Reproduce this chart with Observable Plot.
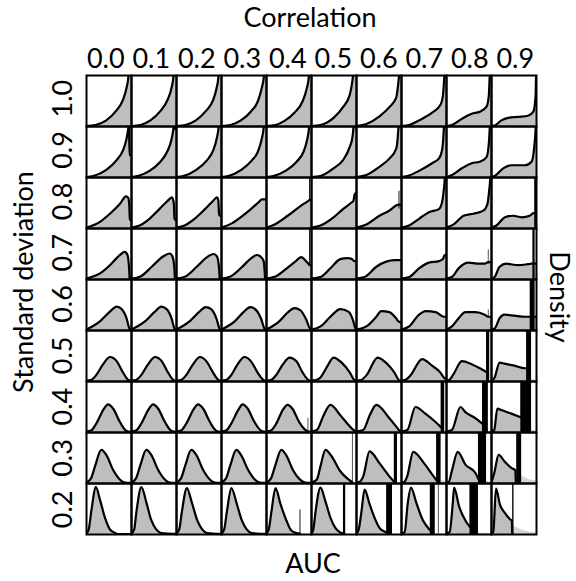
<!DOCTYPE html>
<html><head><meta charset="utf-8">
<script src="https://cdn.jsdelivr.net/npm/d3@7"></script>
<script src="https://cdn.jsdelivr.net/npm/@observablehq/plot@0.6"></script>
<style>body{margin:0;background:#fff}</style>
</head><body><div id="chart"></div>
<script>
const correlations = ["0.0","0.1","0.2","0.3","0.4","0.5","0.6","0.7","0.8","0.9"];
const sds = ["1.0","0.9","0.8","0.7","0.6","0.5","0.4","0.3","0.2"];

// density curves: [auc, density, auc, density, ...] per correlation
const sd10 = [
 [0,0.01, 0.2,0.03, 0.44,0.12, 0.67,0.32, 0.81,0.52, 0.89,0.76, 0.93,0.97, 0.95,1.3, 1,1.6],
 [0,0.01, 0.2,0.03, 0.42,0.12, 0.64,0.3, 0.8,0.52, 0.89,0.76, 0.93,0.97, 0.95,1.3, 1,1.6],
 [0,0.01, 0.2,0.03, 0.43,0.12, 0.66,0.31, 0.81,0.51, 0.89,0.75, 0.93,0.96, 0.95,1.3, 1,1.6],
 [0,0.01, 0.2,0.03, 0.43,0.12, 0.66,0.3, 0.81,0.5, 0.89,0.74, 0.94,0.97, 0.96,1.3, 1,1.6],
 [0,0.01, 0.2,0.03, 0.4,0.11, 0.62,0.27, 0.8,0.49, 0.89,0.73, 0.94,0.97, 0.96,1.3, 1,1.6],
 [0,0.01, 0.2,0.03, 0.49,0.17, 0.7,0.38, 0.85,0.62, 0.91,0.9, 0.93,1.05, 0.96,1.4, 1,1.6],
 [0,0.01, 0.22,0.05, 0.51,0.2, 0.73,0.38, 0.88,0.56, 0.93,0.86, 0.95,1.05, 0.97,1.4, 1,1.6],
 [0,0.01, 0.17,0.03, 0.39,0.12, 0.68,0.27, 0.87,0.43, 0.92,0.6, 0.95,0.95, 0.96,1.1, 1,1.6],
 [0,0.01, 0.12,0.03, 0.34,0.15, 0.56,0.25, 0.74,0.29, 0.89,0.39, 0.94,0.6, 0.96,0.97, 0.97,1.1, 1,1.6],
 [0,0.01, 0.07,0.02, 0.22,0.12, 0.37,0.17, 0.59,0.19, 0.81,0.21, 0.93,0.29, 0.98,0.6, 0.99,0.97, 1,1.2]
];
const sd09 = [
 [0,0.01, 0.15,0.03, 0.44,0.15, 0.67,0.34, 0.81,0.53, 0.89,0.76, 0.93,0.96, 0.945,1.05, 0.955,0.44, 1,0.44],
 [0,0.01, 0.18,0.04, 0.4,0.13, 0.62,0.29, 0.8,0.52, 0.89,0.75, 0.93,0.95, 0.95,1.1, 0.97,0.95, 1,0.95],
 [0,0.01, 0.15,0.03, 0.44,0.15, 0.67,0.33, 0.81,0.52, 0.89,0.75, 0.94,1.02, 0.96,1.3, 1,1.6],
 [0,0.01, 0.15,0.03, 0.44,0.15, 0.67,0.33, 0.81,0.51, 0.89,0.74, 0.94,1.0, 0.96,1.3, 1,1.6],
 [0,0.01, 0.15,0.03, 0.44,0.14, 0.67,0.31, 0.82,0.5, 0.9,0.73, 0.95,1.02, 0.97,1.3, 1,1.6],
 [0,0.01, 0.2,0.03, 0.49,0.18, 0.7,0.34, 0.85,0.6, 0.91,0.79, 0.93,0.95, 0.95,1.2, 1,1.6],
 [0,0.01, 0.22,0.05, 0.51,0.21, 0.73,0.37, 0.88,0.56, 0.91,0.72, 0.93,0.95, 0.95,1.2, 1,1.6],
 [0,0.01, 0.17,0.04, 0.39,0.13, 0.68,0.28, 0.83,0.37, 0.9,0.53, 0.94,0.95, 0.95,1.2, 1,1.6],
 [0,0.01, 0.12,0.05, 0.34,0.18, 0.56,0.28, 0.74,0.31, 0.89,0.4, 0.94,0.66, 0.96,0.95, 0.97,1.2, 1,1.6],
 [0,0.01, 0.07,0.03, 0.26,0.18, 0.44,0.24, 0.74,0.24, 0.89,0.31, 0.95,0.6, 0.98,0.95, 0.99,1.2, 1,1.6]
];
const sd08 = [
 [0,0.02, 0.3,0.13, 0.52,0.29, 0.74,0.48, 0.88,0.63, 0.93,0.6, 0.95,0.45, 0.965,0.18, 1,0.15],
 [0,0.02, 0.18,0.06, 0.4,0.19, 0.62,0.38, 0.8,0.54, 0.9,0.61, 0.94,0.5, 0.955,0.2, 1,0.15],
 [0,0.02, 0.18,0.06, 0.4,0.19, 0.62,0.37, 0.8,0.53, 0.9,0.61, 0.93,0.55, 0.945,0.3, 0.96,0.25, 1,0.25],
 [0,0.02, 0.23,0.1, 0.53,0.29, 0.82,0.51, 0.9,0.57, 1,0.57],
 [0,0.02, 0.18,0.08, 0.47,0.25, 0.77,0.45, 0.93,0.54, 0.96,0.56, 1,0.56],
 [0,0.02, 0.2,0.06, 0.49,0.22, 0.7,0.38, 0.89,0.51, 0.93,0.54, 0.96,0.67, 1,0.7],
 [0,0.02, 0.22,0.08, 0.51,0.25, 0.73,0.35, 0.88,0.45, 0.93,0.47, 1,0.47],
 [0,0.02, 0.17,0.06, 0.39,0.19, 0.61,0.32, 0.83,0.38, 0.9,0.51, 0.94,0.76, 0.96,0.96, 0.97,1.2, 1,1.6],
 [0,0.02, 0.16,0.08, 0.38,0.25, 0.6,0.29, 0.82,0.35, 0.91,0.48, 0.95,0.76, 0.97,0.96, 0.98,1.2, 1,1.6],
 [0,0.02, 0.11,0.06, 0.3,0.22, 0.48,0.25, 0.67,0.22, 0.85,0.25, 0.93,0.3, 1,0.3]
];
const sd07 = [
 [0,0.02, 0.3,0.12, 0.52,0.28, 0.74,0.48, 0.85,0.54, 0.91,0.48, 0.94,0.3, 0.96,0],
 [0,0.02, 0.2,0.06, 0.45,0.25, 0.7,0.45, 0.85,0.51, 0.91,0.45, 0.95,0.25, 0.965,0],
 [0,0.02, 0.2,0.06, 0.45,0.25, 0.68,0.44, 0.83,0.5, 0.9,0.45, 0.94,0.28, 0.96,0],
 [0,0.02, 0.2,0.06, 0.45,0.24, 0.65,0.41, 0.79,0.48, 0.9,0.42, 0.94,0.35, 0.96,0.15, 0.97,0],
 [0,0.02, 0.2,0.06, 0.45,0.22, 0.65,0.36, 0.77,0.44, 0.88,0.36, 0.93,0.31, 0.96,0.28, 1,0.28],
 [0,0.02, 0.2,0.05, 0.42,0.22, 0.64,0.4, 0.8,0.42, 0.9,0.4, 0.95,0.36, 1,0.36],
 [0,0.02, 0.18,0.05, 0.44,0.25, 0.66,0.35, 0.84,0.38, 0.93,0.38, 1,0.38],
 [0,0.02, 0.17,0.05, 0.39,0.22, 0.61,0.33, 0.83,0.36, 0.92,0.4, 0.96,0.48, 1,0.48],
 [0,0.02, 0.12,0.05, 0.27,0.22, 0.49,0.33, 0.71,0.31, 0.85,0.31, 0.93,0.34, 1,0.34],
 [0,0.02, 0.07,0.05, 0.18,0.25, 0.33,0.31, 0.59,0.28, 0.81,0.3, 0.89,0.31, 1,0.31]
];
const sd06 = [
 [0,0.02, 0.3,0.18, 0.52,0.37, 0.67,0.47, 0.78,0.42, 0.89,0.24, 0.96,0.03, 1,0.01],
 [0,0.02, 0.3,0.18, 0.52,0.37, 0.66,0.47, 0.78,0.42, 0.89,0.24, 0.96,0.03, 1,0.01],
 [0,0.02, 0.29,0.18, 0.51,0.37, 0.65,0.46, 0.77,0.42, 0.89,0.23, 0.96,0.03, 1,0.01],
 [0,0.02, 0.28,0.17, 0.5,0.37, 0.64,0.46, 0.76,0.41, 0.88,0.23, 0.96,0.03, 1,0.01],
 [0,0.02, 0.27,0.17, 0.48,0.36, 0.62,0.44, 0.75,0.4, 0.88,0.22, 0.97,0.03, 1,0.01],
 [0,0.02, 0.2,0.08, 0.42,0.27, 0.64,0.42, 0.82,0.37, 0.93,0.18, 0.97,0.05, 1,0.01],
 [0,0.02, 0.22,0.08, 0.44,0.27, 0.55,0.38, 0.73,0.36, 0.88,0.24, 0.93,0.18, 1,0.15],
 [0,0.02, 0.17,0.08, 0.39,0.31, 0.54,0.38, 0.76,0.36, 0.94,0.27, 1,0.27],
 [0,0.02, 0.12,0.08, 0.27,0.24, 0.42,0.36, 0.64,0.36, 0.85,0.31, 0.93,0.27, 1,0.27],
 [0,0.02, 0.07,0.04, 0.18,0.24, 0.29,0.31, 0.51,0.29, 0.74,0.27, 0.86,0.27, 1,0.27]
];
const sd05 = [
 [0,0.02, 0.1,0.03, 0.22,0.13, 0.37,0.34, 0.52,0.48, 0.67,0.4, 0.81,0.18, 0.93,0.03, 1,0.01],
 [0,0.02, 0.1,0.03, 0.22,0.13, 0.37,0.34, 0.52,0.48, 0.67,0.4, 0.81,0.18, 0.93,0.03, 1,0.01],
 [0,0.02, 0.1,0.03, 0.22,0.13, 0.37,0.34, 0.52,0.48, 0.67,0.39, 0.81,0.18, 0.93,0.03, 1,0.01],
 [0,0.02, 0.1,0.03, 0.22,0.13, 0.36,0.34, 0.51,0.48, 0.66,0.39, 0.8,0.18, 0.93,0.03, 1,0.01],
 [0,0.02, 0.1,0.03, 0.21,0.12, 0.36,0.33, 0.51,0.47, 0.66,0.4, 0.8,0.18, 0.93,0.03, 1,0.01],
 [0,0.02, 0.1,0.03, 0.2,0.08, 0.34,0.28, 0.49,0.47, 0.67,0.37, 0.85,0.18, 0.96,0.02, 1,0.01],
 [0,0.02, 0.1,0.03, 0.22,0.12, 0.47,0.47, 0.69,0.34, 0.84,0.18, 0.95,0.02, 1,0.01],
 [0,0.02, 0.08,0.03, 0.2,0.12, 0.46,0.44, 0.68,0.31, 0.86,0.18, 0.94,0.08, 1,0.04],
 [0,0.02, 0.06,0.03, 0.16,0.15, 0.34,0.4, 0.56,0.34, 0.78,0.24, 0.9,0.18],
 [0,0.02, 0.07,0.08, 0.18,0.37, 0.29,0.35, 0.51,0.31, 0.74,0.26, 0.79,0.26]
];
const sd04 = [
 [0,0.02, 0.1,0.04, 0.22,0.18, 0.37,0.44, 0.48,0.55, 0.59,0.47, 0.74,0.21, 0.89,0.03, 1,0.01],
 [0,0.02, 0.1,0.04, 0.22,0.18, 0.37,0.44, 0.48,0.55, 0.59,0.47, 0.74,0.21, 0.89,0.03, 1,0.01],
 [0,0.02, 0.1,0.04, 0.22,0.18, 0.37,0.44, 0.48,0.55, 0.59,0.47, 0.74,0.21, 0.89,0.03, 1,0.01],
 [0,0.02, 0.1,0.04, 0.22,0.18, 0.37,0.44, 0.47,0.55, 0.58,0.47, 0.73,0.21, 0.89,0.03, 1,0.01],
 [0,0.02, 0.1,0.04, 0.22,0.18, 0.36,0.44, 0.47,0.54, 0.58,0.46, 0.73,0.2, 0.9,0.03, 1,0.01],
 [0,0.02, 0.12,0.05, 0.27,0.34, 0.42,0.54, 0.64,0.34, 0.82,0.15, 0.93,0.05, 1,0.01],
 [0,0.02, 0.15,0.05, 0.3,0.35, 0.44,0.54, 0.73,0.28, 0.88,0.12, 0.95,0.04, 1,0.02],
 [0,0.02, 0.13,0.05, 0.31,0.5, 0.53,0.37, 0.75,0.21, 0.88,0.1],
 [0,0.02, 0.12,0.05, 0.31,0.5, 0.42,0.4, 0.64,0.28, 0.8,0.17],
 [0,0.02, 0.06,0.05, 0.13,0.47, 0.22,0.44, 0.44,0.37, 0.65,0.3]
];
const sd03 = [
 [0,0.02, 0.1,0.1, 0.19,0.34, 0.33,0.66, 0.44,0.56, 0.59,0.27, 0.74,0.08, 0.85,0.02, 1,0.01],
 [0,0.02, 0.1,0.1, 0.19,0.34, 0.33,0.66, 0.44,0.56, 0.59,0.27, 0.74,0.08, 0.85,0.02, 1,0.01],
 [0,0.02, 0.1,0.1, 0.19,0.34, 0.33,0.66, 0.44,0.56, 0.59,0.27, 0.74,0.08, 0.85,0.02, 1,0.01],
 [0,0.02, 0.1,0.1, 0.19,0.34, 0.33,0.66, 0.44,0.55, 0.59,0.27, 0.74,0.08, 0.85,0.02, 1,0.01],
 [0,0.02, 0.1,0.1, 0.19,0.34, 0.33,0.66, 0.44,0.55, 0.59,0.26, 0.74,0.08, 0.86,0.02, 1,0.01],
 [0,0.02, 0.12,0.08, 0.2,0.34, 0.31,0.66, 0.45,0.53, 0.64,0.24, 0.82,0.08, 0.9,0.03],
 [0,0.02, 0.06,0.03, 0.15,0.14, 0.29,0.63, 0.51,0.4, 0.73,0.14, 0.84,0.03],
 [0,0.02, 0.06,0.03, 0.13,0.15, 0.26,0.62, 0.5,0.4, 0.68,0.18, 0.78,0.06],
 [0,0.02, 0.05,0.03, 0.12,0.25, 0.25,0.62, 0.42,0.37, 0.64,0.21, 0.71,0.08],
 [0,0.02, 0.06,0.2, 0.16,0.56, 0.3,0.42, 0.45,0.3, 0.53,0.26, 0.54,0]
];
const sd02 = [
 [0,0.02, 0.05,0.1, 0.11,0.48, 0.21,0.93, 0.3,0.68, 0.41,0.33, 0.52,0.1, 0.63,0.03, 0.7,0.01, 1,0.01],
 [0,0.02, 0.06,0.1, 0.11,0.45, 0.22,0.93, 0.33,0.63, 0.44,0.28, 0.55,0.1, 0.66,0.03, 1,0.01],
 [0,0.02, 0.06,0.1, 0.12,0.45, 0.23,0.91, 0.34,0.63, 0.46,0.28, 0.57,0.1, 0.68,0.03, 1,0.01],
 [0,0.02, 0.06,0.1, 0.12,0.45, 0.22,0.91, 0.34,0.6, 0.45,0.28, 0.56,0.1, 0.67,0.03, 1,0.01],
 [0,0.02, 0.05,0.1, 0.11,0.45, 0.2,0.91, 0.31,0.6, 0.44,0.28, 0.55,0.08, 0.66,0.03, 0.74,0.02],
 [0,0.02, 0.04,0.1, 0.09,0.45, 0.2,0.92, 0.31,0.65, 0.42,0.33, 0.53,0.13, 0.64,0.04, 0.71,0.02],
 [0,0.02, 0.05,0.1, 0.11,0.45, 0.18,0.88, 0.29,0.6, 0.4,0.33, 0.51,0.13, 0.62,0.06, 0.67,0.04],
 [0,0.02, 0.07,0.05, 0.14,0.62, 0.21,0.92, 0.33,0.62, 0.47,0.29, 0.62,0.1, 0.64,0.08],
 [0,0.02, 0.07,0.05, 0.14,0.62, 0.17,0.92, 0.28,0.55, 0.43,0.26, 0.52,0.15],
 [0,0.02, 0.04,0.05, 0.1,0.9, 0.19,0.58, 0.3,0.42, 0.41,0.3, 0.45,0.27, 0.46,0]
];
const curveRows = [sd10, sd09, sd08, sd07, sd06, sd05, sd04, sd03, sd02];

// spikes: [sd, correlation, auc from, auc to, density from, density to]
const spikes = [
 ["0.8","0.4",0.955,0.975,0.54,1], ["0.8","0.6",0.945,0.965,0.38,0.73], ["0.8","0.9",0.96,1.0,0,1],
 ["0.7","0.4",0.955,0.975,0.28,1], ["0.7","0.8",0.93,0.945,0.3,0.58], ["0.7","0.9",0.92,0.97,0,1],
 ["0.6","0.8",0.93,0.945,0.27,0.4], ["0.6","0.9",0.86,0.97,0,1],
 ["0.5","0.8",0.89,0.96,0,1], ["0.5","0.9",0.78,0.89,0,1],
 ["0.4","0.4",0.925,0.94,0,0.28], ["0.4","0.7",0.88,0.96,0,1], ["0.4","0.8",0.8,0.93,0,1], ["0.4","0.9",0.65,0.89,0,1],
 ["0.3","0.5",0.91,0.925,0,1], ["0.3","0.6",0.84,0.91,0,1], ["0.3","0.7",0.78,0.88,0,1], ["0.3","0.8",0.71,0.89,0,1], ["0.3","0.9",0.56,0.67,0,1],
 ["0.2","0.4",0.745,0.765,0,0.48], ["0.2","0.5",0.71,0.76,0,1], ["0.2","0.6",0.67,0.8,0,1], ["0.2","0.7",0.64,0.75,0,1],
 ["0.2","0.7",0.82,0.835,0,1], ["0.2","0.8",0.52,0.71,0,1], ["0.2","0.9",0.47,0.5,0,1]
];
// faint tails: [sd, correlation, [auc, density, ...]]
const tails = [
 ["0.5","0.9",[0.89,0.04, 1,0.02]],
 ["0.4","0.9",[0.89,0.05, 1,0.03]],
 ["0.3","0.7",[0.88,0.06, 1,0.04]],
 ["0.3","0.8",[0.89,0.04, 1,0.02]],
 ["0.3","0.9",[0.67,0.15, 0.8,0.09, 1,0.05]],
 ["0.2","0.8",[0.71,0.03, 1,0.02]],
 ["0.2","0.9",[0.5,0.16, 0.65,0.1, 0.8,0.06, 1,0.03]]
];

const curves = [];
sds.forEach((sd, i) => curveRows[i].forEach((arr, j) => {
  for (let k = 0; k < arr.length; k += 2) curves.push({sd, corr: correlations[j], auc: arr[k], density: arr[k + 1]});
}));
const tailData = [];
tails.forEach(([sd, corr, arr]) => {
  for (let k = 0; k < arr.length; k += 2) tailData.push({sd, corr, auc: arr[k], density: arr[k + 1]});
});
const spikeData = spikes.map(([sd, corr, a1, a2, d1, d2]) => ({sd, corr, a1, a2, d1, d2}));

const chart = Plot.plot({
  width: 576, height: 581,
  marginLeft: 83, marginRight: 38, marginTop: 73, marginBottom: 46,
  style: {background: "#fff"},
  fx: {domain: correlations, padding: 0, axis: null},
  fy: {domain: sds, padding: 0, axis: null},
  x: {domain: [0, 1], axis: null},
  y: {domain: [0, 1], axis: null},
  marks: [
    Plot.areaY(tailData, {fx: "corr", fy: "sd", x: "auc", y: "density", curve: "monotone-x", fill: "#d4d4d4", clip: true}),
    Plot.areaY(curves, {fx: "corr", fy: "sd", x: "auc", y: "density", curve: "monotone-x", fill: "#bebebe", clip: true}),
    Plot.lineY(curves, {fx: "corr", fy: "sd", x: "auc", y: "density", curve: "monotone-x", stroke: "#000", strokeWidth: 2.2, clip: true}),
    Plot.rect(spikeData, {fx: "corr", fy: "sd", x1: "a1", x2: "a2", y1: "d1", y2: "d2", fill: "#000", clip: true}),
    Plot.frame({stroke: "#000", strokeWidth: 2})
  ]
});
document.getElementById("chart").appendChild(chart);

const svg = d3.select(chart);
const font = "Lato, 'Open Sans', sans-serif";
const x0 = 83, cw = 455 / 10, y0 = 73, rh = 462 / 9;
const txt = (s, x, y, rot) => svg.append("text")
  .attr("transform", `translate(${x},${y})` + (rot ? ` rotate(${rot})` : ""))
  .attr("text-anchor", "middle").attr("font-family", font).attr("font-size", 27).attr("fill", "#000").text(s);
txt("Correlation", 310, 27);
correlations.forEach((c, j) => txt(c, x0 + cw * (j + 0.5), 68));
sds.forEach((s, i) => txt(s, 72, y0 + rh * (i + 0.5), -90));
txt("Standard deviation", 33, 282, -90);
txt("Density", 550, 297, 90);
txt("AUC", 313, 573);
</script></body></html>
